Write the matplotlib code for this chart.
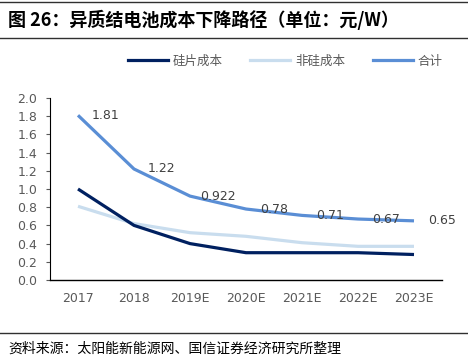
import matplotlib.pyplot as plt
from matplotlib.lines import Line2D

plt.rcParams['font.family'] = ['Noto Sans CJK SC', 'DejaVu Sans']

years = ['2017', '2018', '2019E', '2020E', '2021E', '2022E', '2023E']
silicon = [1.0, 0.6, 0.4, 0.3, 0.3, 0.3, 0.28]
non_silicon = [0.81, 0.62, 0.52, 0.48, 0.41, 0.37, 0.37]
total = [1.81, 1.22, 0.922, 0.78, 0.71, 0.67, 0.65]
total_labels = ['1.81', '1.22', '0.922', '0.78', '0.71', '0.67', '0.65']

c_si = '#002060'
c_non = '#C9DDEE'
c_tot = '#5A8ED5'
c_txt = '#595959'

fig = plt.figure(figsize=(4.68, 3.64), dpi=100)
ax = fig.add_axes([50 / 468, 1 - 280 / 364, 392 / 468, 182 / 364])

x = list(range(len(years)))
ax.plot(x, silicon, color=c_si, lw=2.3, solid_capstyle='butt', zorder=3)
ax.plot(x, non_silicon, color=c_non, lw=2.3, solid_capstyle='butt', zorder=2)
ax.plot(x, total, color=c_tot, lw=2.3, solid_capstyle='butt', zorder=3)

for xi, v, s in zip(x, total, total_labels):
    ax.annotate(s, (xi, v), xytext=(20, 0), textcoords='offset points',
                ha='center', va='center', fontsize=9, color='#404040',
                family='DejaVu Sans', zorder=4)

ax.set_xlim(-0.5, 6.5)
ax.set_ylim(0, 2.0)
ax.set_yticks([i / 5 for i in range(11)])
ax.set_yticklabels([f'{i / 5:.1f}' for i in range(11)], family='DejaVu Sans')
ax.set_xticks(x)
ax.set_xticklabels(years, family='DejaVu Sans')
ax.tick_params(axis='y', labelsize=9, colors=c_txt, length=3, width=0.8, pad=6)
ax.tick_params(axis='x', labelsize=9, colors=c_txt, length=0, pad=9)
for t in ax.get_yticklines():
    t.set_color('black')
for side in ['top', 'right']:
    ax.spines[side].set_visible(False)
ax.spines['left'].set_linewidth(0.8)
ax.spines['bottom'].set_linewidth(1.0)

handles = [Line2D([], [], color=c_si, lw=2.3),
           Line2D([], [], color=c_non, lw=2.3),
           Line2D([], [], color=c_tot, lw=2.3)]
leg = fig.legend(handles, ['硅片成本', '非硅成本', '合计'], loc='center',
                 bbox_to_anchor=(285 / 468, 1 - 61 / 364), ncol=3, frameon=False,
                 fontsize=9, handlelength=3.2, columnspacing=2.2, handletextpad=0.4)
for t in leg.get_texts():
    t.set_color(c_txt)

fig.text(8 / 468, 1 - 20 / 364, '图 26：异质结电池成本下降路径（单位：元/W）',
         fontsize=13, fontweight='bold', ha='left', va='center', color='black')
fig.text(8 / 468, 1 - 349 / 364, '资料来源：太阳能新能源网、国信证券经济研究所整理',
         fontsize=10, ha='left', va='center', color='black')

for yy in [2, 38, 333]:
    fig.add_artist(Line2D([0, 1], [1 - yy / 364] * 2, color='#303030', lw=1.0))

fig.savefig('out.png', dpi=100)
